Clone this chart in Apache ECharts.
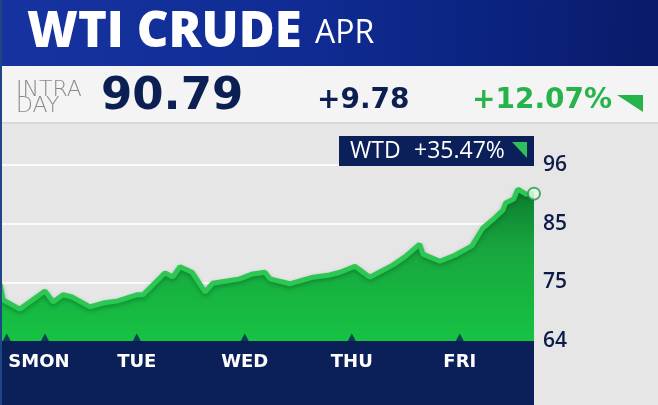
<!DOCTYPE html>
<html>
<head>
<meta charset="utf-8">
<script src="https://cdn.jsdelivr.net/npm/echarts@6/dist/echarts.min.js"></script>
<style>
  html, body { margin: 0; padding: 0; background: #e6e6e6; }
  #chart { width: 658px; height: 405px; }
</style>
</head>
<body>
<div id="chart"></div>
<script>
// hours since Sunday 00:00 (session opens Sunday evening)
const hours = [18, 18.7, 22.4, 28, 29.8, 32, 34, 38, 40.9, 44.2, 48.4, 49.8, 54.7, 56.4,
  58, 60.7, 63.6, 65.3, 71.3, 74.2, 76.9, 78, 82.4, 87.6, 91.3, 93.6, 96.9, 100.2,
  105.3, 108, 111.3, 112, 115.8, 119.1, 122.9, 125.3, 128, 129.8, 130.4, 132.2, 133.1, 134.9, 136.7]
const prices = [74.4, 71.45, 69.8, 73.1, 71.1, 72.4, 72.0, 70.2, 70.9, 71.3, 72.4, 72.4, 76.4, 75.6,
  77.5, 76.5, 72.9, 74.5, 75.3, 76.2, 76.5, 75.3, 74.4, 75.6, 76.0, 76.5, 77.6, 75.6,
  77.8, 79.3, 81.6, 79.8, 78.5, 79.6, 81.3, 84.5, 86.4, 87.8, 89.1, 89.8, 91.6, 90.7, 90.79]

// tick marks (triangles); the Sunday label is squeezed against Monday's
const dayTicks = [19.5, 28, 48.4, 72.4, 96.2, 120.2]
const labelTicks = [28, 48.4, 72.4, 96.2, 120.2]
const dayLabels = ['SMON', 'TUE', 'WED', 'THU', 'FRI']
const yTicks = [64, 64 + 32 / 3, 64 + 64 / 3, 96]
const yLabels = ['64', '75', '85', '96']

const NAVY = '#0b1f58'
const GREEN = '#27b34b'

const chart = echarts.init(document.getElementById('chart'))

const options = {
  backgroundColor: '#e6e6e6',
  animation: false,
  grid: { left: 0, right: 124, top: 165, height: 176 },
  xAxis: {
    type: 'value',
    z: 20,
    min: 18,
    max: 136.7,
    axisLine: { show: false },
    axisTick: { show: false },
    splitLine: { show: false },
    axisLabel: {
      customValues: labelTicks,
      formatter: (v) => {
        const i = labelTicks.indexOf(v)
        return i === 0 ? '{m|' + dayLabels[i] + '}' : dayLabels[i]
      },
      color: '#fff',
      fontFamily: 'DejaVu Sans',
      fontWeight: 'bold',
      fontSize: 18,
      margin: 12,
      rich: {
        m: { color: '#fff', fontFamily: 'DejaVu Sans', fontWeight: 'bold', fontSize: 18, padding: [0, 12, 0, 0] }
      }
    }
  },
  yAxis: {
    type: 'value',
    position: 'right',
    min: 64,
    max: 96,
    interval: 32 / 3,
    axisLine: { show: false },
    axisTick: { show: false },
    splitLine: { lineStyle: { color: '#fafafa', width: 2 } },
    axisLabel: {
      customValues: yTicks,
      formatter: (v) => yLabels[yTicks.findIndex(t => Math.abs(t - v) < 0.01)],
      color: '#0d1b48',
      fontFamily: 'Open Sans',
      fontWeight: 600,
      fontSize: 21,
      margin: 9
    }
  },
  graphic: [
    // header band
    { type: 'rect', z: 0, shape: { x: 0, y: 0, width: 658, height: 66 },
      style: { fill: new echarts.graphic.LinearGradient(0, 0, 1, 0.3, [
        { offset: 0, color: '#1633a0' }, { offset: 0.45, color: '#102c94' },
        { offset: 0.75, color: '#0b2380' }, { offset: 1, color: '#091a68' }]) } },
    { type: 'rect', z: 0, shape: { x: 0, y: 66, width: 658, height: 57 }, style: { fill: '#f4f4f4' } },
    { type: 'rect', z: 0, shape: { x: 0, y: 122, width: 658, height: 2 }, style: { fill: '#d8d8d8' } },
    { type: 'text', z: 10, style: { text: 'WTI CRUDE', x: 27, y: 33, textVerticalAlign: 'middle',
      font: '800 49px "Open Sans"', fill: '#fff' } },
    { type: 'text', z: 10, style: { text: 'APR', x: 315, y: 34, textVerticalAlign: 'middle',
      font: '400 32px "Open Sans"', fill: '#fff' } },
    { type: 'text', z: 10, style: { text: 'INTRA', x: 16, y: 90, textVerticalAlign: 'middle',
      font: '200 22px "DejaVu Sans"', fill: '#8a8a8a' } },
    { type: 'text', z: 10, style: { text: 'DAY', x: 16, y: 106, textVerticalAlign: 'middle',
      font: '200 22px "DejaVu Sans"', fill: '#8a8a8a' } },
    { type: 'text', z: 10, style: { text: '90.79', x: 101, y: 97, textVerticalAlign: 'middle',
      font: '700 45px "DejaVu Sans"', fill: '#0c1f52' } },
    { type: 'text', z: 10, style: { text: '+9.78', x: 317, y: 101, textVerticalAlign: 'middle',
      font: '700 28px "DejaVu Sans"', fill: '#0c1f52' } },
    { type: 'text', z: 10, style: { text: '+12.07%', x: 472, y: 101, textVerticalAlign: 'middle',
      font: '700 28px "DejaVu Sans"', fill: GREEN } },
    { type: 'polygon', z: 10, shape: { points: [[617, 95], [643, 95], [643, 112]] }, style: { fill: GREEN } },
    // WTD box
    { type: 'rect', z: 10, shape: { x: 339, y: 136, width: 195, height: 30 }, style: { fill: NAVY } },
    { type: 'text', z: 11, style: { text: 'WTD', x: 350, y: 151, textVerticalAlign: 'middle',
      font: '500 23px "Open Sans"', fill: '#fff' } },
    { type: 'text', z: 11, style: { text: '+35.47%', x: 414, y: 151, textVerticalAlign: 'middle',
      font: '500 23px "Open Sans"', fill: '#fff' } },
    { type: 'polygon', z: 11, shape: { points: [[512, 142], [527, 142], [527, 158]] }, style: { fill: '#2ec05a' } },
    // bottom band under the plot
    { type: 'rect', z: 1, shape: { x: 0, y: 341, width: 534, height: 64 }, style: { fill: NAVY } },
    // thin left edge
    { type: 'rect', z: 12, shape: { x: 0, y: 0, width: 2, height: 405 }, style: { fill: '#1d4686' } }
  ],
  series: [
    {
      type: 'line',
      z: 3,
      data: hours.map((h, i) => [h, prices[i]]),
      showSymbol: false,
      lineStyle: { color: '#2dc853', width: 5, shadowColor: 'rgba(0,60,20,0.35)', shadowBlur: 4, shadowOffsetY: 2 },
      areaStyle: {
        opacity: 1,
        color: new echarts.graphic.LinearGradient(0, 0, 0, 1, [
          { offset: 0, color: '#0c7d2e' }, { offset: 0.4, color: '#18a63f' }, { offset: 1, color: '#16c343' }])
      }
    },
    {
      type: 'scatter',
      z: 4,
      data: dayTicks.map(h => [h, 64]),
      symbol: 'triangle',
      symbolSize: [16, 15],
      itemStyle: { color: NAVY }
    },
    {
      type: 'scatter',
      z: 5,
      data: [[hours[hours.length - 1], prices[prices.length - 1]]],
      symbolSize: 12,
      itemStyle: { color: '#eef7ee', borderColor: '#1e9f44', borderWidth: 2 }
    }
  ]
}

chart.setOption(options)
</script>
</body>
</html>
